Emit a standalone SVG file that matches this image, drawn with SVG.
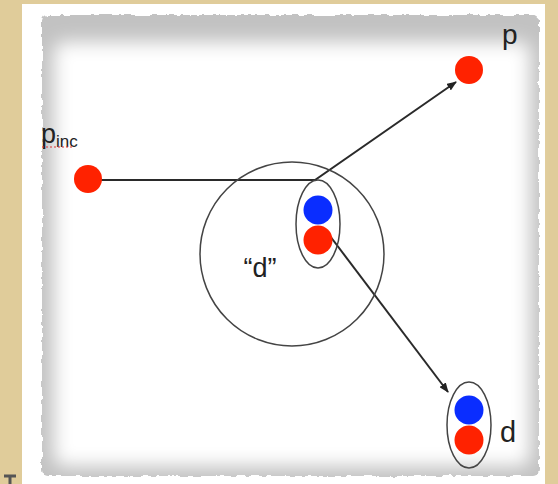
<svg xmlns="http://www.w3.org/2000/svg" width="558" height="484" viewBox="0 0 558 484">
  <defs>
    <filter id="blur" x="-10%" y="-10%" width="120%" height="120%">
      <feGaussianBlur stdDeviation="9"/>
    </filter>
    <filter id="rough" x="-5%" y="-5%" width="110%" height="110%">
      <feTurbulence type="fractalNoise" baseFrequency="0.15" numOctaves="2" seed="3" result="n"/>
      <feDisplacementMap in="SourceGraphic" in2="n" scale="5" xChannelSelector="R" yChannelSelector="G"/>
    </filter>
    <marker id="arrow" markerWidth="10" markerHeight="8" refX="9" refY="4" orient="auto" markerUnits="userSpaceOnUse">
      <path d="M0,0 L10,4 L0,8 Z" fill="#222"/>
    </marker>
    <style>
      .conn { stroke: #2a2a2a; stroke-width: 2; fill: none; }
      .ring { stroke: #444; stroke-width: 1.5; fill: none; }
      .red { fill: #ff2200; }
      .blue { fill: #0a2dff; }
      .lbl { font-family: "Liberation Sans", Arial, sans-serif; fill: #222; }
    </style>
  </defs>

  <!-- background -->
  <rect x="0" y="0" width="558" height="484" fill="#e0cc9a"/>
  <rect x="22" y="4" width="523" height="480" fill="#ffffff"/>
  <g filter="url(#rough)">
    <rect x="42" y="15" width="497" height="461" rx="6" fill="#c2c2c2"/>
  </g>
  <rect x="54" y="42" width="476" height="424" rx="10" fill="#ffffff" filter="url(#blur)"/>
  <path d="M4,476 L16,476 M10,476 L10,484" stroke="#555" stroke-width="3"/>

  <!-- connectors -->
  <g id="connectors">
    <polyline class="conn" points="100,180 315,180 456,82" marker-end="url(#arrow)" stroke-width="2.4"/>
    <line class="conn" x1="330" y1="236" x2="448" y2="392" marker-end="url(#arrow)"/>
  </g>

  <!-- nodes -->
  <g id="p_inc">
    <circle class="red" cx="88" cy="179" r="14"/>
    <text class="lbl" x="41" y="143" font-size="27">p</text>
    <text class="lbl" x="56" y="147" font-size="17">inc</text>
    <line x1="42" y1="147" x2="74" y2="147" stroke="#e03030" stroke-width="1.2" stroke-dasharray="2,2"/>
  </g>

  <g id="p">
    <circle class="red" cx="469" cy="70" r="14"/>
    <text class="lbl" x="502" y="44" font-size="28">p</text>
  </g>

  <g id="d_region">
    <circle class="ring" cx="292" cy="254" r="92"/>
    <text class="lbl" x="260" y="277" font-size="27" text-anchor="middle">“d”</text>
  </g>

  <g id="d_inner">
    <ellipse class="ring" cx="318" cy="224" rx="22" ry="44"/>
    <circle class="blue" cx="318" cy="210" r="14.5"/>
    <circle class="red" cx="318" cy="240" r="14.5"/>
  </g>

  <g id="d">
    <ellipse class="ring" cx="469" cy="425" rx="22" ry="43"/>
    <circle class="blue" cx="469" cy="410" r="14.5"/>
    <circle class="red" cx="469" cy="440" r="14.5"/>
    <text class="lbl" x="500" y="442" font-size="29">d</text>
  </g>
</svg>
